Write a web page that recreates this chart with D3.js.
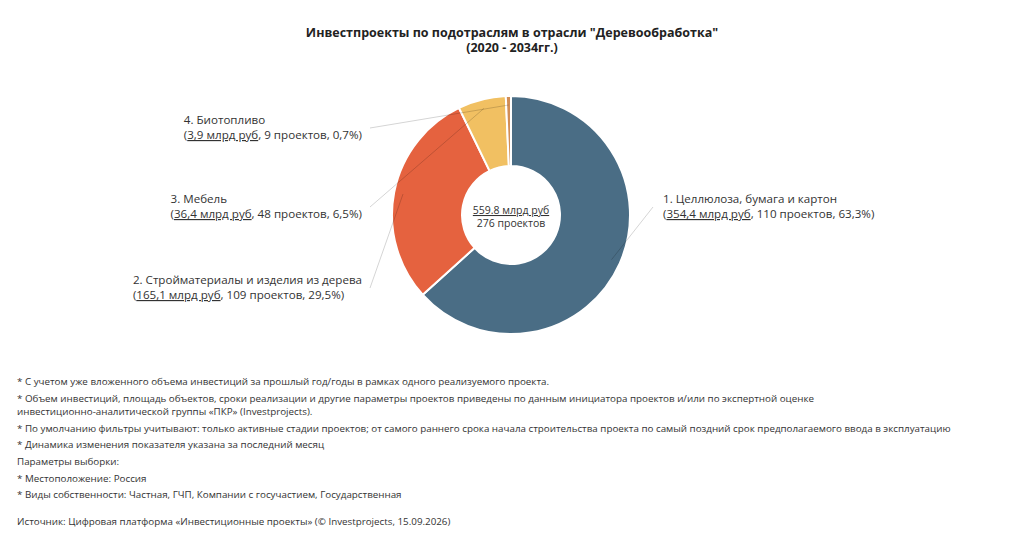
<!DOCTYPE html>
<html>
<head>
<meta charset="utf-8">
<script src="https://cdn.jsdelivr.net/npm/d3@7"></script>
<style>
  body { margin: 0; background: #fff; }
  text { font-family: "Open Sans", "Noto Sans", sans-serif; fill: #333; }
</style>
</head>
<body>
<div id="chart"></div>
<script>
const categories = ["1. Целлюлоза, бумага и картон", "2. Стройматериалы и изделия из дерева", "3. Мебель", "4. Биотопливо"];
const values = [354.4, 165.1, 36.4, 3.9];
const valueLabels = ["354,4 млрд руб", "165,1 млрд руб", "36,4 млрд руб", "3,9 млрд руб"];
const projects = [110, 109, 48, 9];
const shares = ["63,3%", "29,5%", "6,5%", "0,7%"];
const colors = ["#4a6d85", "#e5623f", "#f1c062", "#d18d56"];
const totalLabel = "559.8 млрд руб";
const totalProjects = "276 проектов";

const titleLines = ["Инвестпроекты по подотраслям в отрасли \"Деревообработка\"", "(2020 - 2034гг.)"];
const notes = [
  "* С учетом уже вложенного объема инвестиций за прошлый год/годы в рамках одного реализуемого проекта.",
  "* Объем инвестиций, площадь объектов, сроки реализации и другие параметры проектов приведены по данным инициатора проектов и/или по экспертной оценке",
  "инвестиционно-аналитической группы «ПКР» (Investprojects).",
  "* По умолчанию фильтры учитывают: только активные стадии проектов; от самого раннего срока начала строительства проекта по самый поздний срок предполагаемого ввода в эксплуатацию",
  "* Динамика изменения показателя указана за последний месяц",
  "Параметры выборки:",
  "* Местоположение: Россия",
  "* Виды собственности: Частная, ГЧП, Компании с госучастием, Государственная",
  "Источник: Цифровая платформа «Инвестиционные проекты» (© Investprojects, 15.09.2026)"
];

const width = 1024, height = 559;
const cx = 511, cy = 215, outerR = 119, innerR = 49;

const svg = d3.select("#chart").append("svg")
  .attr("width", width)
  .attr("height", height);

// title
svg.append("g").selectAll("text")
  .data(titleLines)
  .join("text")
  .attr("x", width / 2)
  .attr("y", (d, i) => 37 + i * 15)
  .attr("text-anchor", "middle")
  .style("font-size", "12.5px")
  .style("font-weight", "bold")
  .style("fill", "#222")
  .text(d => d);

const data = categories.map((c, i) => ({
  name: c, value: values[i], valueLabel: valueLabels[i],
  projects: projects[i], share: shares[i], color: colors[i]
}));

const pie = d3.pie().sort(null).value(d => d.value);
const arc = d3.arc().innerRadius(innerR).outerRadius(outerR);
const leadArc = d3.arc().innerRadius(110).outerRadius(110);
const arcs = pie(data);

const g = svg.append("g").attr("transform", `translate(${cx},${cy})`);

g.selectAll("path")
  .data(arcs)
  .join("path")
  .attr("d", arc)
  .attr("fill", d => d.data.color)
  .attr("stroke", "#fff")
  .attr("stroke-width", 2);

// label anchors: side and vertical centre of each two-line label
const labelLayout = [
  { side: "right", x: 663, y: 207, lx: 653 },
  { side: "left", x: 362, y: 288, lx: 370 },
  { side: "left", x: 362, y: 207, lx: 370 },
  { side: "left", x: 362, y: 128, lx: 370 }
];

const labels = svg.append("g");
arcs.forEach((a, i) => {
  const L = labelLayout[i];
  const [px, py] = leadArc.centroid(a);
  labels.append("line")
    .attr("x1", L.lx).attr("y1", L.y)
    .attr("x2", cx + px).attr("y2", cy + py)
    .attr("stroke", "rgba(0,0,0,0.17)")
    .attr("stroke-width", 1);

  const t = labels.append("text").style("font-size", "11.6px");
  const l1 = t.append("tspan").attr("y", L.y - 4).text(a.data.name);
  const l2 = t.append("tspan").attr("y", L.y + 11);
  l2.append("tspan").text("(");
  l2.append("tspan").style("text-decoration", "underline").text(a.data.valueLabel);
  l2.append("tspan").text(`, ${a.data.projects} проектов, ${a.data.share})`);

  let x0 = L.x;
  if (L.side === "left") {
    const w = Math.max(l1.node().getComputedTextLength(), l2.node().getComputedTextLength());
    x0 = L.x - w;
  }
  l1.attr("x", x0);
  l2.attr("x", x0);
});

// centre text
g.append("text")
  .attr("y", -1)
  .attr("text-anchor", "middle")
  .style("font-size", "10.5px")
  .style("text-decoration", "underline")
  .text(totalLabel);
g.append("text")
  .attr("y", 12)
  .attr("text-anchor", "middle")
  .style("font-size", "10.5px")
  .text(totalProjects);

// footnotes
const noteY = [385, 402, 415, 432, 448, 465, 482, 498, 525];
svg.append("g").selectAll("text")
  .data(notes)
  .join("text")
  .attr("x", 17)
  .attr("y", (d, i) => noteY[i])
  .style("font-size", "9.8px")
  .text(d => d);
</script>
</body>
</html>
